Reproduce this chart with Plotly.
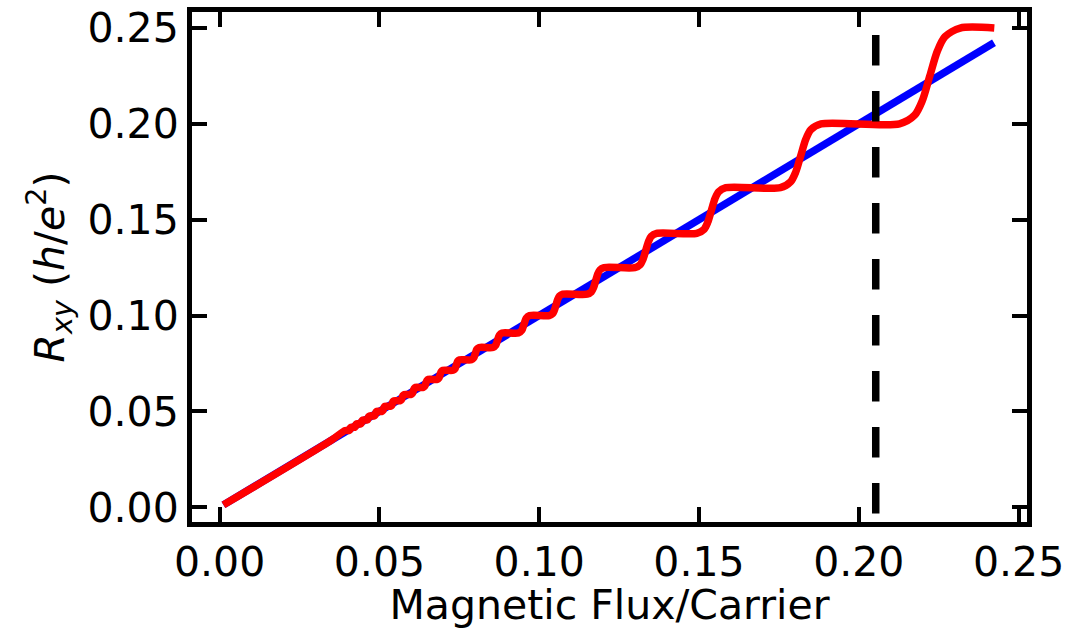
import plotly.graph_objects as go

# ---- data ----
blue_x = [0.0012, 0.2423]
blue_y = [0.0012, 0.2423]

red_x = [
    0.0012, 0.0350, 0.0393,
    0.04050, 0.04069, 0.04082, 0.04095, 0.04114,
    0.04220, 0.04241, 0.04255, 0.04269, 0.04290,
    0.04406, 0.04429, 0.04444, 0.04459, 0.04482,
    0.04609, 0.04634, 0.04651, 0.04668, 0.04693,
    0.04832, 0.04860, 0.04878, 0.04896, 0.04924,
    0.05078, 0.05108, 0.05128, 0.05148, 0.05178,
    0.05349, 0.05383, 0.05405, 0.05427, 0.05461,
    0.05651, 0.05689, 0.05714, 0.05739, 0.05777,
    0.05990, 0.06033, 0.06061, 0.06089, 0.06132,
    0.06372, 0.06420, 0.06452, 0.06484, 0.06532,
    0.06806, 0.06861, 0.06897, 0.06933, 0.06988,
    0.07301, 0.07365, 0.07407, 0.07449, 0.07513,
    0.07877, 0.07951, 0.08000, 0.08049, 0.08123,
    0.08551, 0.08638, 0.08696, 0.08754, 0.08841,
    0.09349, 0.09454, 0.09524, 0.09594, 0.09699,
    0.10313, 0.10420, 0.10473, 0.10526, 0.10579, 0.10633, 0.10739,
    0.11499, 0.11632, 0.11699, 0.11765, 0.11832, 0.11898, 0.12031,
    0.12991, 0.13162, 0.13248, 0.13333, 0.13419, 0.13504, 0.13675,
    0.14930, 0.15158, 0.15271, 0.15385, 0.15499, 0.15612, 0.15840,
    0.17546, 0.17864, 0.18023, 0.18182, 0.18341, 0.18500, 0.18818,
    0.21272, 0.21747, 0.21985, 0.22222, 0.22459, 0.22697, 0.23172,
    0.2424,
]
red_y = [
    0.0012, 0.0350, 0.0400,
    0.04000, 0.04025, 0.04083, 0.04142, 0.04167,
    0.04167, 0.04194, 0.04258, 0.04321, 0.04348,
    0.04348, 0.04378, 0.04447, 0.04515, 0.04545,
    0.04545, 0.04578, 0.04654, 0.04729, 0.04762,
    0.04762, 0.04798, 0.04881, 0.04964, 0.05000,
    0.05000, 0.05039, 0.05132, 0.05224, 0.05263,
    0.05263, 0.05307, 0.05409, 0.05512, 0.05556,
    0.05556, 0.05605, 0.05719, 0.05833, 0.05882,
    0.05882, 0.05937, 0.06066, 0.06195, 0.06250,
    0.06250, 0.06313, 0.06458, 0.06604, 0.06667,
    0.06667, 0.06738, 0.06905, 0.07072, 0.07143,
    0.07143, 0.07225, 0.07418, 0.07610, 0.07692,
    0.07692, 0.07788, 0.08013, 0.08237, 0.08333,
    0.08333, 0.08447, 0.08712, 0.08977, 0.09091,
    0.09091, 0.09227, 0.09545, 0.09864, 0.10000,
    0.10000, 0.10100, 0.10267, 0.10556, 0.10844, 0.11011, 0.11111,
    0.11111, 0.11236, 0.11444, 0.11806, 0.12167, 0.12375, 0.12500,
    0.12500, 0.12661, 0.12929, 0.13393, 0.13857, 0.14125, 0.14286,
    0.14286, 0.14500, 0.14857, 0.15476, 0.16095, 0.16452, 0.16667,
    0.16667, 0.16967, 0.17467, 0.18333, 0.19200, 0.19700, 0.20000,
    0.20000, 0.20450, 0.21200, 0.22500, 0.23800, 0.24550, 0.25000,
    0.25000,
]

marker_x = [0.2053, 0.2053]
marker_y = [0.2463, -0.0033]

x_ticks = [0.00, 0.05, 0.10, 0.15, 0.20, 0.25]
x_labels = ["0.00", "0.05", "0.10", "0.15", "0.20", "0.25"]
y_ticks = [0.00, 0.05, 0.10, 0.15, 0.20, 0.25]
y_labels = ["0.00", "0.05", "0.10", "0.15", "0.20", "0.25"]

x_range = [-0.00864, 0.25263]
y_range = [-0.00773, 0.25836]

FONT = "DejaVu Sans"

fig = go.Figure()
fig.add_trace(go.Scatter(x=blue_x, y=blue_y, mode="lines",
                         line=dict(color="#0000ff", width=7.5), showlegend=False))
fig.add_trace(go.Scatter(x=red_x, y=red_y, mode="lines",
                         line=dict(color="#ff0000", width=7.5, shape="spline", smoothing=0.8),
                         showlegend=False))
fig.add_trace(go.Scatter(x=marker_x, y=marker_y, mode="lines",
                         line=dict(color="#000000", width=7.5, dash="30.5px,25.5px"),
                         showlegend=False))

axis_common = dict(
    showline=True, linecolor="black", linewidth=5, mirror="ticks",
    ticks="inside", ticklen=15, tickwidth=3.5, tickcolor="black",
    showgrid=False, zeroline=False,
    tickfont=dict(family=FONT, size=41, color="black"),
)

fig.update_xaxes(range=x_range, tickvals=x_ticks, ticktext=x_labels,
                 title=dict(text="Magnetic Flux/Carrier",
                            font=dict(family=FONT, size=41, color="black"), standoff=12),
                 **axis_common)
fig.update_yaxes(range=y_range, tickvals=y_ticks, ticktext=y_labels,
                 title=dict(text="<i>R</i><sub><i>xy</i></sub> (<i>h</i>/<i>e</i><sup>2</sup>)",
                            font=dict(family=FONT, size=41, color="black"), standoff=12),
                 **axis_common)

fig.update_layout(
    width=1091, height=629,
    margin=dict(l=192, r=64, t=12, b=107, autoexpand=False),
    paper_bgcolor="white", plot_bgcolor="white",
    showlegend=False,
)

fig.write_html(
    "out.html",
    config={"displayModeBar": False},
    post_script="document.body.style.margin='0';document.body.style.overflow='hidden';",
)
